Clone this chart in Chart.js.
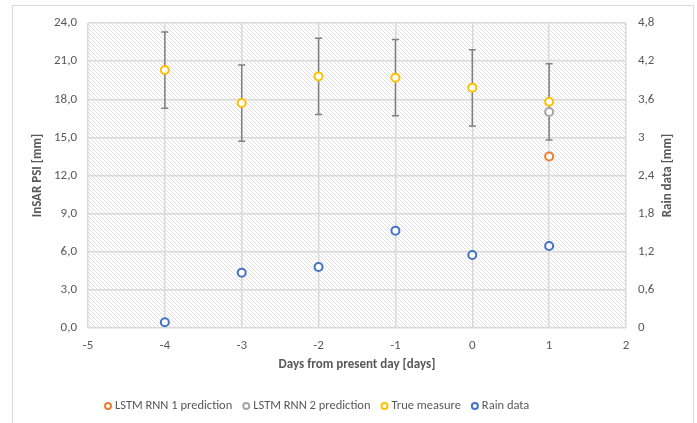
<!DOCTYPE html>
<html>
<head>
<meta charset="utf-8">
<script src="https://cdn.jsdelivr.net/npm/chart.js@4"></script>
<style>
  html, body { margin: 0; padding: 0; background: #fff; }
  #wrap { width: 697px; height: 423px; position: relative; }
</style>
</head>
<body>
<div id="wrap"><canvas id="graphic" width="697" height="423"></canvas></div>
<script>
const days = [-4, -3, -2, -1, 0, 1];
const trueMeasure = [20.3, 17.7, 19.8, 19.7, 18.9, 17.8];
const trueError = [3.0, 3.0, 3.0, 3.0, 3.0, 3.0];
const rainData = [0.09, 0.87, 0.96, 1.53, 1.15, 1.29];
const lstm1Days = [1];
const lstm1Values = [13.5];
const lstm2Days = [1];
const lstm2Values = [17.0];
const xTicks = [-5, -4, -3, -2, -1, 0, 1, 2];

const textColor = '#595959';
const gridColor = '#d9d9d9';
const fontFamily = "Carlito, Lato, 'Liberation Sans', sans-serif";

const toPoints = (xs, ys) => xs.map((x, i) => ({ x: x, y: ys[i] }));

/* hatch for the plot area */
function makeHatch() {
  const tile = document.createElement('canvas');
  tile.width = 4;
  tile.height = 4;
  const c = tile.getContext('2d');
  c.fillStyle = '#ffffff';
  c.fillRect(0, 0, 4, 4);
  c.fillStyle = '#e0e0e0';
  for (let i = 0; i < 4; i++) c.fillRect(i, i, 1, 1);
  return tile;
}

const backgroundPlugin = {
  id: 'background',
  beforeDraw(chart) {
    const { ctx, chartArea } = chart;
    ctx.save();
    ctx.strokeStyle = gridColor;
    ctx.lineWidth = 1;
    ctx.strokeRect(12.5, 5.5, 681, 440);
    ctx.fillStyle = ctx.createPattern(makeHatch(), 'repeat');
    ctx.fillRect(chartArea.left, chartArea.top, chartArea.right - chartArea.left, chartArea.bottom - chartArea.top);
    ctx.restore();
  }
};

const errorBarPlugin = {
  id: 'errorBars',
  beforeDatasetsDraw(chart) {
    const { ctx, scales } = chart;
    ctx.save();
    ctx.strokeStyle = '#808080';
    ctx.lineWidth = 1.5;
    days.forEach((d, i) => {
      const x = scales.x.getPixelForValue(d);
      const yTop = scales.y.getPixelForValue(trueMeasure[i] + trueError[i]);
      const yBot = scales.y.getPixelForValue(trueMeasure[i] - trueError[i]);
      ctx.beginPath();
      ctx.moveTo(x, yTop);
      ctx.lineTo(x, yBot);
      ctx.moveTo(x - 3.5, yTop);
      ctx.lineTo(x + 3.5, yTop);
      ctx.moveTo(x - 3.5, yBot);
      ctx.lineTo(x + 3.5, yBot);
      ctx.stroke();
    });
    ctx.restore();
  }
};

/* right title reads bottom to top, and the legend sits under the axis title */
const extrasPlugin = {
  id: 'extras',
  afterDraw(chart) {
    const { ctx, chartArea } = chart;
    ctx.save();
    ctx.fillStyle = textColor;
    ctx.font = 'bold 13px ' + fontFamily;
    ctx.textAlign = 'center';
    ctx.textBaseline = 'middle';
    ctx.translate(668, (chartArea.top + chartArea.bottom) / 2);
    ctx.rotate(-Math.PI / 2);
    ctx.fillText('Rain data [mm]', 0, 0);
    ctx.restore();

    ctx.save();
    ctx.font = '12.5px ' + fontFamily;
    ctx.textBaseline = 'middle';
    let x = 108;
    const y = 406;
    chart.data.datasets.forEach(ds => {
      ctx.beginPath();
      ctx.arc(x, y, 3, 0, Math.PI * 2);
      ctx.fillStyle = '#fff';
      ctx.fill();
      ctx.lineWidth = 2;
      ctx.strokeStyle = ds.borderColor;
      ctx.stroke();
      ctx.fillStyle = textColor;
      ctx.textAlign = 'left';
      ctx.fillText(ds.label, x + 7, y);
      x += 7 + ctx.measureText(ds.label).width + 14;
    });
    ctx.restore();
  }
};

const pointStyle = color => ({
  borderColor: color,
  backgroundColor: '#ffffff',
  pointRadius: 4,
  pointHoverRadius: 4,
  borderWidth: 2,
  showLine: false
});

const data = {
  datasets: [
    { label: 'LSTM RNN 1 prediction', data: toPoints(lstm1Days, lstm1Values), yAxisID: 'y', ...pointStyle('#ED7D31') },
    { label: 'LSTM RNN 2 prediction', data: toPoints(lstm2Days, lstm2Values), yAxisID: 'y', ...pointStyle('#A5A5A5') },
    { label: 'True measure', data: toPoints(days, trueMeasure), yAxisID: 'y', ...pointStyle('#FFC000') },
    { label: 'Rain data', data: toPoints(days, rainData), yAxisID: 'y1', ...pointStyle('#4472C4') }
  ]
};

const config = {
  type: 'scatter',
  data: data,
  options: {
    responsive: false,
    animation: false,
    layout: { padding: { top: 23, left: 0, right: 0, bottom: 45 } },
    plugins: {
      legend: { display: false },
      tooltip: { enabled: false }
    },
    scales: {
      x: {
        type: 'linear',
        min: -5,
        max: 2,
        afterBuildTicks: scale => { scale.ticks = xTicks.map(v => ({ value: v })); },
        afterFit: scale => { scale.height = 50; },
        grid: { color: gridColor, lineWidth: 1.5, drawTicks: false },
        border: { display: false },
        ticks: { color: textColor, padding: 10, font: { family: fontFamily, size: 13 } },
        title: {
          display: true,
          text: 'Days from present day [days]',
          color: textColor,
          padding: { top: 0, bottom: 5 },
          font: { family: fontFamily, size: 13, weight: 'bold' }
        }
      },
      y: {
        position: 'left',
        min: 0,
        max: 24,
        afterFit: scale => { scale.width = 88; },
        grid: { color: gridColor, lineWidth: 1.5, drawTicks: false },
        border: { display: false },
        ticks: {
          stepSize: 3,
          color: textColor,
          padding: 11,
          font: { family: fontFamily, size: 13 },
          callback: v => v.toFixed(1).replace('.', ',')
        },
        title: {
          display: true,
          text: 'InSAR PSI [mm]',
          color: textColor,
          padding: { top: 30, bottom: 0 },
          font: { family: fontFamily, size: 13, weight: 'bold' }
        }
      },
      y1: {
        position: 'right',
        min: 0,
        max: 4.8,
        afterFit: scale => { scale.width = 71; },
        grid: { drawOnChartArea: false, drawTicks: false },
        border: { display: false },
        ticks: {
          stepSize: 0.6,
          color: textColor,
          padding: 12,
          font: { family: fontFamily, size: 13 },
          callback: v => String(parseFloat(v.toFixed(1))).replace('.', ',')
        }
      }
    }
  },
  plugins: [backgroundPlugin, errorBarPlugin, extrasPlugin]
};

const rainChart = new Chart(document.querySelector('#graphic'), config);
</script>
</body>
</html>
